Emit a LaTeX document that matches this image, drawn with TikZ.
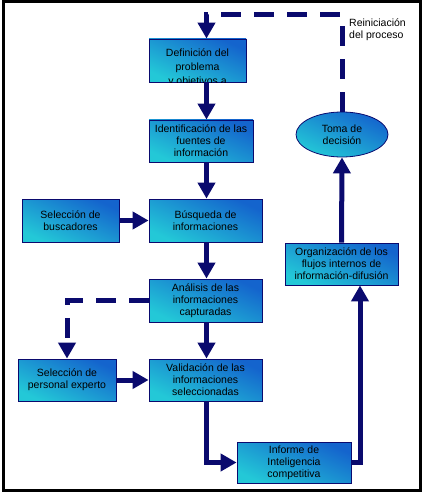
\documentclass[tikz,border=0pt]{standalone}
\usepackage{fontspec}
\setmainfont{Liberation Sans}
\usetikzlibrary{arrows.meta,shapes.geometric}
\definecolor{flecha}{RGB}{10,10,110}
\definecolor{azul}{RGB}{20,100,205}
\definecolor{celeste}{RGB}{35,200,215}
\begin{document}
\begin{tikzpicture}[x = 1pt, y = -1pt,
		caja/.style = {draw = flecha, line width = 0.8pt, top color = azul, bottom color = celeste, shading angle = -25, minimum height = 42pt, inner sep = 0pt, align = center, font = \fontsize{10.5}{12}\selectfont},
		flujo/.style = {draw = flecha, line width = 5pt, -{Triangle[width = 17pt, length = 16pt]}},
		discont/.style = {flujo, dash pattern = on 20pt off 13pt}]
				\useasboundingbox (0,0) rectangle (423,494);
				\draw[line width = 3pt] (3,2) rectangle (420,490);
				
				\coordinate (col) at (206.5,0);
				\coordinate (arriba) at (0,15);
				\coordinate (der) at (360,0);
				
				\node[caja, minimum width = 97pt, minimum height = 43pt] (def) at (197.5,60.5) {};
				\begin{scope}
					\clip (def.south west) rectangle (def.north east);
					\node[align = center, inner sep = 0pt, font = \fontsize{10.5}{14}\selectfont] (deftxt) at (197.5,67.5) {Definición del\\problema\\y objetivos a};
				\end{scope}
				\node[caja, minimum width = 104pt] (ident) at (201,141) {Identificación de las\\fuentes de\\información};
				\node[caja, minimum width = 97pt, minimum height = 43pt] (busc) at (70.5,220.5) {Selección de\\buscadores};
				\node[caja, minimum width = 113pt, minimum height = 43pt] (bus) at (205.5,220.5) {Búsqueda de\\informaciones};
				\node[caja, minimum width = 113pt, minimum height = 43pt] (ana) at (205.5,300.5) {Análisis de las\\informaciones\\capturadas};
				\node[caja, minimum width = 98pt] (pers) at (67,380) {Selección de\\personal experto};
				\node[caja, minimum width = 113pt] (val) at (205.5,380) {Validación de las\\informaciones\\seleccionadas};
				\node[caja, minimum width = 114pt, minimum height = 41pt] (inf) at (294,462.5) {Informe de\\Inteligencia\\competitiva};
				\node[caja, minimum width = 113pt] (org) at (341.5,264) {Organización de los\\flujos internos de\\información-difusión};
				\node[caja, ellipse, minimum width = 92pt, minimum height = 45pt] (toma) at (342,134.5) {Toma de\\decisión};
				\node[anchor = west, align = left, inner sep = 0pt, font = \fontsize{10.5}{12}\selectfont] (reini) at (349,30) {Reiniciación\\del proceso};
				
				\draw[flujo] (def.south -| col) -- (ident.north -| col);
				\draw[flujo] (ident.south -| col) -- (bus.north -| col);
				\draw[flujo] (busc.east) -- (bus.west);
				\draw[flujo] (bus.south -| col) -- (ana.north -| col);
				\draw[flujo] (ana.south -| col) -- (val.north -| col);
				\draw[flujo] (pers.east) -- (val.west);
				\draw[flujo] (val.south -| col) |- (inf.west);
				\draw[flujo] (inf.east) -- (inf.east -| der) -- (org.south -| der);
				\draw[flujo] (org.north) -- (toma.south);
				
				\draw[discont] (toma.north) -- (toma.north |- arriba) -| (def.north -| col);
				\draw[discont] (ana.west) -| (pers.north);
			\end{tikzpicture}
\end{document}
